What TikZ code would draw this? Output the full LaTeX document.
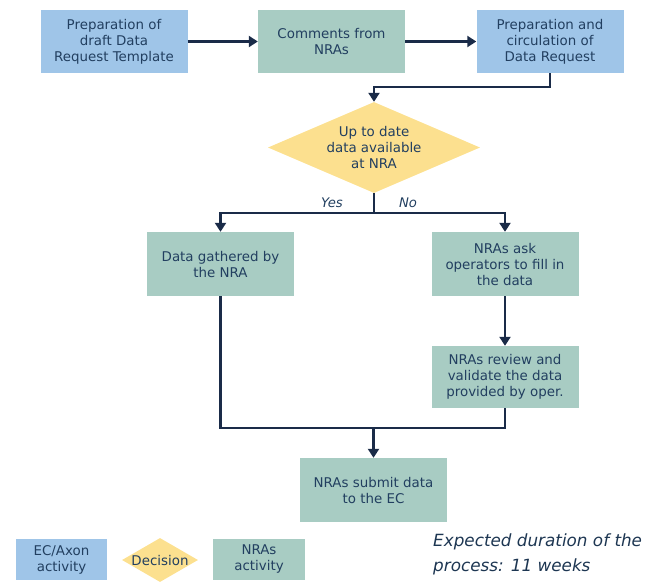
\documentclass[tikz,border=0pt]{standalone}
\usepackage{fontspec}
\setmainfont{DejaVu Sans}
\usetikzlibrary{arrows.meta,shapes.geometric}
\definecolor{ecblue}{HTML}{9FC5E8}
\definecolor{nragreen}{HTML}{A8CCC3}
\definecolor{decyellow}{HTML}{FCE08F}
\definecolor{txtc}{HTML}{223F60}
\definecolor{arrc}{HTML}{1A2B48}
\tikzset{
  box/.style={rectangle, inner sep=0pt, minimum width=147pt, minimum height=63pt,
    align=center, text=txtc, font=\fontsize{13.4}{16}\selectfont},
  ecbox/.style={box, fill=ecblue},
  nrabox/.style={box, fill=nragreen},
  decbox/.style={diamond, aspect=2.33, inner sep=0pt, fill=decyellow, align=center,
    text=txtc, font=\fontsize{13.4}{15.7}\selectfont},
  conn/.style={draw=arrc, line width=2.5pt},
  arr/.style={conn, -{Triangle[length=9pt,width=11pt]}},
  lbl/.style={text=txtc, font=\fontsize{13.2}{15}\selectfont\itshape, inner sep=0pt}
}
\begin{document}
\begin{tikzpicture}[x=1pt,y=-1pt]
\useasboundingbox (0,0) rectangle (646,582);
% top row
\node[ecbox]  (b1) at (114,41.5) {Preparation of\\draft Data\\Request Template};
\node[nrabox] (b2) at (331.5,41.5) {Comments from\\NRAs};
\node[ecbox]  (b3) at (550,41.5) {Preparation and\\circulation of\\Data Request};
% decision
\node[decbox, minimum width=212pt, minimum height=91pt] (dec) at (374,147.5) {Up to date\\data available\\at NRA};
\node[lbl] (yes) at (332,203) {Yes};
\node[lbl] (no) at (408,203) {No};
% branches
\node[nrabox, minimum height=64pt] (gat) at (220.5,264) {Data gathered by\\the NRA};
\node[nrabox, minimum height=64pt] (ask) at (505,264) {NRAs ask\\operators to fill in\\the data};
\node[nrabox, minimum height=62pt] (rev) at (505,377) {NRAs review and\\validate the data\\provided by oper.};
\node[nrabox, minimum height=64pt] (sub) at (373.5,490) {NRAs submit data\\to the EC};
% helper coordinates
\coordinate (ya) at (0,87);
\coordinate (yb) at (0,213);
\coordinate (yc) at (0,428);
% connectors
\draw[arr] (b1.east) -- (b2.west);
\draw[arr] (b2.east) -- (b3.west);
\draw[arr] (b3.south) -- (b3.south |- ya) -| (dec.north);
\draw[conn] (dec.south) -- (dec.south |- yb);
\draw[arr] (dec.south |- yb) -| (gat.north);
\draw[arr] (dec.south |- yb) -| (ask.north);
\draw[arr] (ask.south) -- (rev.north);
\draw[conn] (gat.south) |- (rev.south |- yc) -- (rev.south);
\draw[arr] (sub.north |- yc) -- (sub.north);
% legend
\node[ecbox, minimum width=91pt, minimum height=41pt] (lg1) at (61.5,559.5) {EC/Axon\\activity};
\node[decbox, aspect=1.77, minimum width=76pt, minimum height=44pt] (lg2) at (160,560) {Decision};
\node[nrabox, minimum width=92pt, minimum height=41pt] (lg3) at (259,559.5) {NRAs\\activity};
\node[anchor=north west, align=left, inner sep=0pt, text=txtc!85!black,
  font=\fontsize{16.8}{25}\selectfont\itshape] (dur) at (433,533.5)
  {Expected duration of the\\process: 11 weeks};
\end{tikzpicture}
\end{document}
